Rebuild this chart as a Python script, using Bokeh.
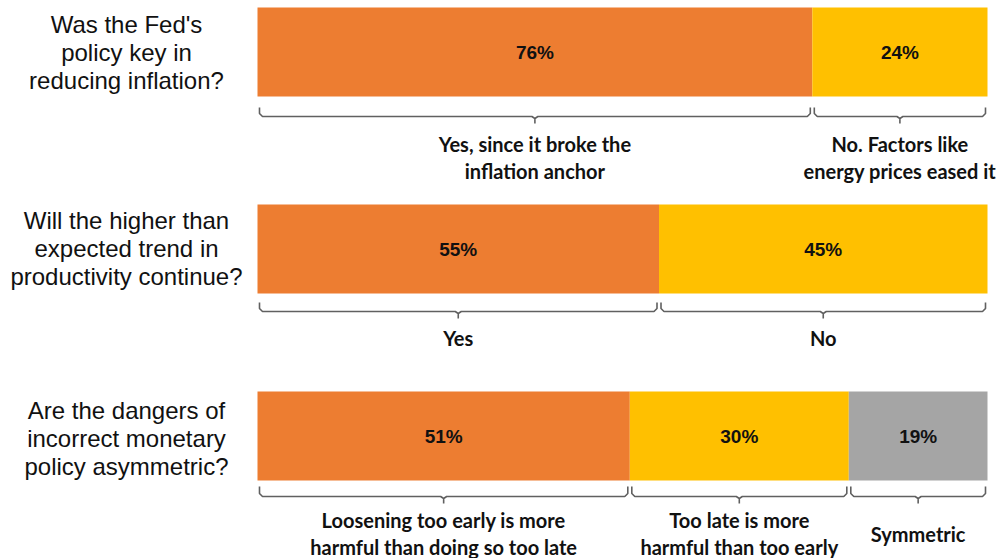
from bokeh.plotting import figure
from bokeh.models import Range1d, ColumnDataSource
from bokeh.core.properties import value
from bokeh.embed import file_html
from bokeh.resources import INLINE

# ---- data ----
questions = [
    ["Was the Fed's", "policy key in", "reducing inflation?"],
    ["Will the higher than", "expected trend in", "productivity continue?"],
    ["Are the dangers of", "incorrect monetary", "policy asymmetric?"],
]
shares_q1 = [76, 24]
shares_q2 = [55, 45]
shares_q3 = [51, 30, 19]
answers_q1 = [["Yes, since it broke the", "inflation anchor"], ["No. Factors like", "energy prices eased it"]]
answers_q2 = [["Yes"], ["No"]]
answers_q3 = [["Loosening too early is more", "harmful than doing so too late"],
              ["Too late is more", "harmful than too early"], ["Symmetric"]]
colors = ["#ED7D31", "#FFC000", "#A5A5A5"]

all_shares = [shares_q1, shares_q2, shares_q3]
all_answers = [answers_q1, answers_q2, answers_q3]

# ---- layout (pixel-based) ----
W, H = 1002, 558
PX = 7.3                      # pixels per percent
X0 = -257 / PX                # data start so that 0% sits at x=257
X1 = X0 + W / PX

def dx(px):
    return px / PX

bar_top = [7, 204, 391]
bar_h = 89
brace_line = [116, 311, 496]
brace_top = [107, 302, 486]
label_center = [156.5, 337, 533]
label_lh = 27
q_center = [52, 248, 438]
q_lh = 28

p = figure(width=W, height=H, output_backend="svg", toolbar_location=None,
           x_range=Range1d(X0, X1), y_range=Range1d(H, 0),
           min_border=0)
p.axis.visible = False
p.grid.visible = False
p.outline_line_color = None
p.background_fill_color = "white"
p.border_fill_color = "white"

for i, shares in enumerate(all_shares):
    lefts, rights = [], []
    acc = 0
    for s in shares:
        lefts.append(acc)
        acc += s
        rights.append(acc)
    yc = bar_top[i] + bar_h / 2
    src = ColumnDataSource(dict(
        left=lefts, right=rights, y=[yc] * len(shares), color=colors[:len(shares)],
        mid=[(l + r) / 2 for l, r in zip(lefts, rights)],
        lab=[f"{s}%" for s in shares]))
    p.hbar(y="y", left="left", right="right", height=bar_h, fill_color="color",
           line_color=None, source=src)
    p.text(x="mid", y="y", text="lab", source=src, text_align="center",
           text_baseline="middle", text_font=value("Liberation Sans"),
           text_font_style="bold", text_font_size="19px", text_color="#111111")

    # braces
    xs, ys = [], []
    ln = brace_line[i]; tp = brace_top[i]
    for l, r in zip(lefts, rights):
        a = l + dx(2); b = r - dx(2); c = (l + r) / 2
        xs.append([a, a, a + dx(3), c - dx(3), c, c, c, c + dx(3), b - dx(3), b, b])
        ys.append([tp, ln - 3, ln, ln, ln + 2, ln + 7, ln + 2, ln, ln, ln - 3, tp])
    p.multi_line(xs=xs, ys=ys, line_color="#606060", line_width=1.6)

    # answer labels
    tx, ty, tt = [], [], []
    for l, r, lines in zip(lefts, rights, all_answers[i]):
        n = len(lines)
        for k, line in enumerate(lines):
            tx.append((l + r) / 2)
            ty.append(label_center[i] + (k - (n - 1) / 2) * label_lh)
            tt.append(line)
    p.text(x=tx, y=ty, text=tt, text_align="center", text_baseline="middle",
           text_font=value("Lato"), text_font_style="bold", text_font_size="20px",
           text_color="#111111")

    # question
    qx, qy = [], []
    for k, line in enumerate(questions[i]):
        qx.append(X0 + dx(126))
        qy.append(q_center[i] + (k - 1) * q_lh)
    p.text(x=qx, y=qy, text=questions[i], text_align="center", text_baseline="middle",
           text_font=value("Liberation Sans"), text_font_size="24px", text_color="#111111")

open("out.html", "w").write(file_html(p, INLINE))
